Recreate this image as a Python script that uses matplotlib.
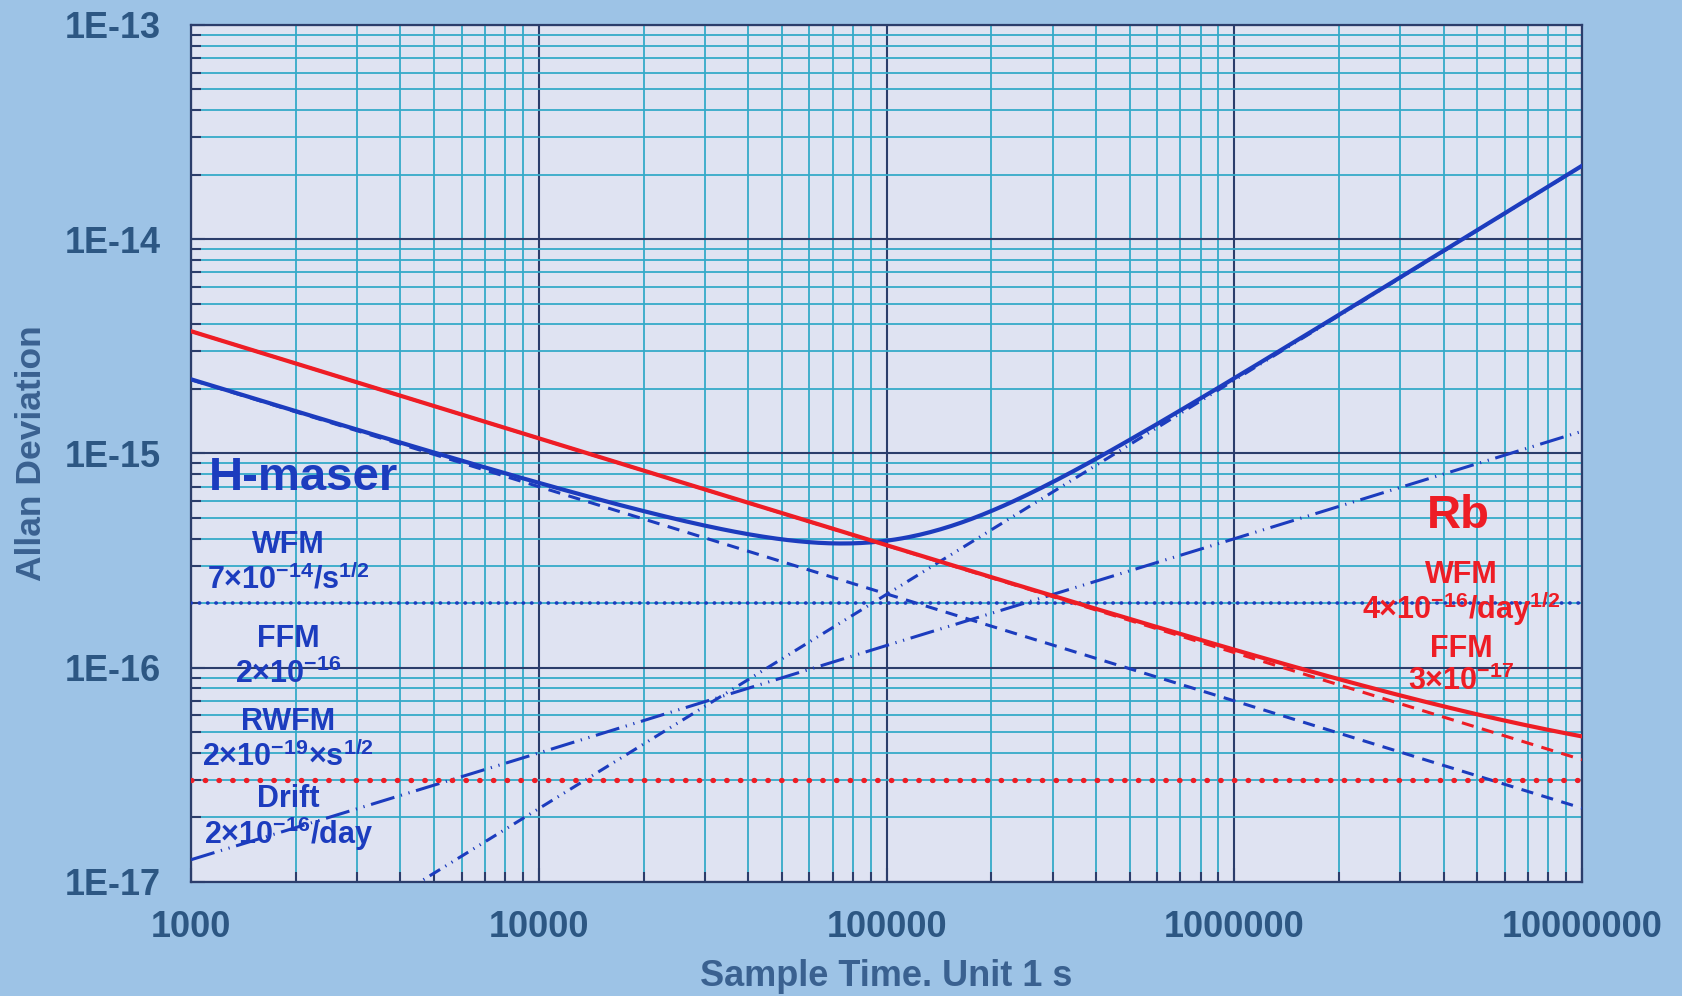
import numpy as np
import matplotlib
matplotlib.use("Agg")
import matplotlib.pyplot as plt
from matplotlib.ticker import FixedLocator, LogLocator, FuncFormatter, NullFormatter

plt.rcParams['font.family'] = ['Liberation Sans', 'DejaVu Sans']
plt.rcParams['font.weight'] = 'bold'
plt.rcParams['mathtext.fontset'] = 'custom'
plt.rcParams['mathtext.bf'] = 'Liberation Sans:bold'
plt.rcParams['mathtext.rm'] = 'Liberation Sans:bold'
plt.rcParams['mathtext.default'] = 'bf'

# sample times at each decade (s)
tau_dec = [1e3, 1e4, 1e5, 1e6, 1e7]

# H-maser noise components at each decade
hm_wfm = [2.21e-15, 7.0e-16, 2.21e-16, 7.0e-17, 2.21e-17]
hm_ffm = [2e-16, 2e-16, 2e-16, 2e-16, 2e-16]
hm_rwfm = [1.27e-17, 4.0e-17, 1.27e-16, 4.0e-16, 1.27e-15]
hm_drift = [2.2e-18, 2.2e-17, 2.2e-16, 2.2e-15, 2.2e-14]

# Rb noise components at each decade
rb_wfm = [3.72e-15, 1.176e-15, 3.72e-16, 1.176e-16, 3.72e-17]
rb_ffm = [3e-17, 3e-17, 3e-17, 3e-17, 3e-17]

x_ticks = [1e3, 1e4, 1e5, 1e6, 1e7]
x_labels = ['1000', '10000', '100000', '1000000', '10000000']
y_ticks = [1e-17, 1e-16, 1e-15, 1e-14, 1e-13]
y_labels = ['1E-17', '1E-16', '1E-15', '1E-14', '1E-13']

blue = '#1c3cbe'
red = '#ee1d25'
navy = '#2b3d6b'
cyan = '#35aac8'
label_col = '#2d5783'

# fine grid for the combined curves (components are straight on log-log)
t = np.logspace(3, 7, 400)
lt = np.log10(tau_dec)
def comp(vals):
    return 10 ** np.interp(np.log10(t), lt, np.log10(vals))

hm_total = np.sqrt(comp(hm_wfm)**2 + comp(hm_ffm)**2 + comp(hm_rwfm)**2 + comp(hm_drift)**2)
rb_total = np.sqrt(comp(rb_wfm)**2 + comp(rb_ffm)**2)

fig = plt.figure(figsize=(16.82, 9.96), dpi=100)
fig.patch.set_facecolor('#9dc3e6')
ax = fig.add_axes([0.1136, 0.1145, 0.8270, 0.8604])
ax.set_facecolor('#dfe3f2')
ax.set_xscale('log')
ax.set_yscale('log')
ax.set_xlim(1e3, 1e7)
ax.set_ylim(1e-17, 1e-13)

# grid
ax.xaxis.set_major_locator(FixedLocator(x_ticks))
ax.yaxis.set_major_locator(FixedLocator(y_ticks))
ax.xaxis.set_minor_locator(LogLocator(base=10, subs=np.arange(2, 10)))
ax.yaxis.set_minor_locator(LogLocator(base=10, subs=np.arange(2, 10)))
ax.xaxis.set_minor_formatter(NullFormatter())
ax.yaxis.set_minor_formatter(NullFormatter())
ax.xaxis.set_major_formatter(FuncFormatter(lambda v, p: x_labels[x_ticks.index(v)] if v in x_ticks else ''))
ax.yaxis.set_major_formatter(FuncFormatter(lambda v, p: y_labels[y_ticks.index(v)] if v in y_ticks else ''))
ax.grid(True, which='minor', color=cyan, lw=1.3, zorder=0)
ax.grid(True, which='major', color=navy, lw=1.5, zorder=0)
ax.set_axisbelow(True)

ax.tick_params(which='both', direction='in', color=navy, width=1.5,
               labelcolor=label_col, labelsize=26)
ax.tick_params(which='major', length=10)
ax.tick_params(which='minor', length=7)
ax.tick_params(axis='y', pad=22)
ax.tick_params(axis='x', pad=20)
for s in ax.spines.values():
    s.set_color(navy)
    s.set_linewidth(1.6)

# H-maser components
ax.plot(tau_dec, hm_wfm, color=blue, lw=2.2, ls=(0, (4, 2.8)), zorder=3)
ax.plot(tau_dec, hm_ffm, color=blue, lw=2.6, ls=(0, (0.1, 2.2)),
        dash_capstyle='round', zorder=3)
ax.plot(tau_dec, hm_rwfm, color=blue, lw=2.2,
        ls=(0, (8, 2.2, 0.4, 2.2, 0.4, 2.2)), zorder=3)
ax.plot(tau_dec, hm_drift, color=blue, lw=2.2,
        ls=(0, (4, 2, 0.4, 2, 0.4, 2)), zorder=3)

# Rb components
ax.plot(tau_dec, rb_wfm, color=red, lw=2.2, ls=(0, (4, 2.8)), zorder=3)
ax.plot(tau_dec, rb_ffm, color=red, lw=3.8, ls=(0, (0.1, 2.5)),
        dash_capstyle='round', zorder=3)

# totals
ax.plot(t, hm_total, color=blue, lw=3.0, zorder=4)
ax.plot(t, rb_total, color=red, lw=3.0, zorder=5)

# annotations
ax.text(2100, 7.7e-16, 'H-maser', color=blue, fontsize=34, ha='center', va='center', zorder=6)
hm_notes = [
    (3.72e-16, 'WFM'),
    (2.57e-16, '7×10$^{-14}$/s$^{1/2}$'),
    (1.36e-16, 'FFM'),
    (9.3e-17, '2×10$^{-16}$'),
    (5.6e-17, 'RWFM'),
    (3.85e-17, '2×10$^{-19}$×s$^{1/2}$'),
    (2.45e-17, 'Drift'),
    (1.68e-17, '2×10$^{-16}$/day'),
]
for yv, s in hm_notes:
    ax.text(1900, yv, s, color=blue, fontsize=22, ha='center', va='center', zorder=6)

ax.text(4.4e6, 5.1e-16, 'Rb', color=red, fontsize=34, ha='center', va='center', zorder=6)
rb_notes = [
    (2.72e-16, 'WFM'),
    (1.88e-16, '4×10$^{-16}$/day$^{1/2}$'),
    (1.22e-16, 'FFM'),
    (8.6e-17, '3×10$^{-17}$'),
]
for yv, s in rb_notes:
    ax.text(4.5e6, yv, s, color=red, fontsize=22, ha='center', va='center', zorder=6)

fig.text(886 / 1682, 1 - 976 / 996, 'Sample Time. Unit 1 s', color='#3a6190',
         fontsize=26, ha='center', va='center')
fig.text(32 / 1682, 1 - 453 / 996, 'Allan Deviation', color='#3a6190',
         fontsize=25.5, ha='center', va='center', rotation=90)

fig.savefig('out.png', dpi=100, facecolor=fig.get_facecolor())
